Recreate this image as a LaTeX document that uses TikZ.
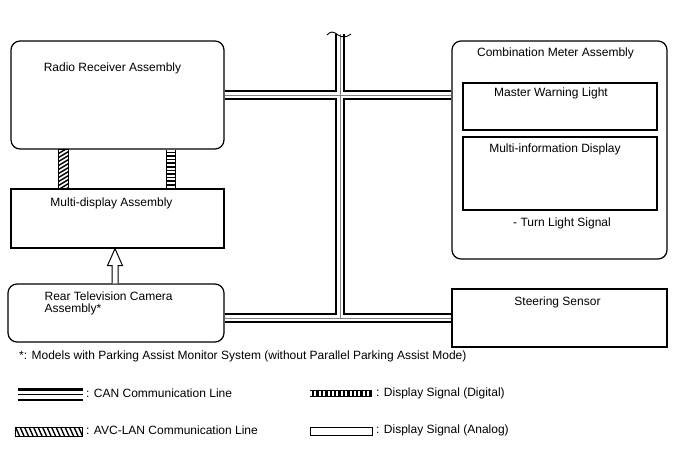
\documentclass[tikz,border=0pt]{standalone}
\usepackage{fontspec}
\setmainfont{Liberation Sans}
\usetikzlibrary{arrows.meta,positioning,calc}

\begin{document}
\begin{tikzpicture}[x=1pt,y=-1pt,font=\fontsize{12}{12.5}\selectfont,
  box/.style={draw,line width=1.2pt,inner sep=0pt},
  rbox/.style={box,rounded corners=9pt},
  lbl/.style={inner sep=0pt,anchor=north}]
\useasboundingbox (0,0) rectangle (688,463);
% units
\node[rbox,minimum width=213pt,minimum height=108pt] (radio) at (117.5,95) {};
\node[box,minimum width=213pt,minimum height=59pt] (multi) at (117.5,218.5) {};
\node[rbox,minimum width=216pt,minimum height=58pt] (rear) at (116,313) {};
\node[rbox,minimum width=215pt,minimum height=218pt] (meter) at (559.5,150) {};
\node[box,minimum width=194pt,minimum height=47pt] (mwl) at (560,106.5) {};
\node[box,minimum width=194pt,minimum height=73pt] (mid) at (560,173.5) {};
\node[box,minimum width=215pt,minimum height=58pt] (steer) at (559.5,318) {};
% texts
\node[lbl,below=22pt of radio.north,xshift=-5pt] (radiot) {Radio Receiver Assembly};
\node[lbl,below=9pt of multi.north,xshift=-6pt] (multit) {Multi-display Assembly};
\node[lbl,anchor=north west,align=left] (reart) at ($(rear.north west)+(37,8)$) {Rear Television Camera\\Assembly*};
\node[lbl,below=7pt of meter.north,xshift=-4pt] (metert) {Combination Meter Assembly};
\node[lbl,below=5pt of mwl.north,xshift=-9pt] (mwlt) {Master Warning Light};
\node[lbl,below=7pt of mid.north,xshift=-5pt] (midt) {Multi-information Display};
\node[lbl,below=7pt of mid.south,xshift=2pt] (turnt) {- Turn Light Signal};
\node[lbl,below=8pt of steer.north,xshift=-2pt] (steert) {Steering Sensor};
% CAN bus
\coordinate (brk) at (340,34);
\foreach \w/\c in {10/black,5.5/white,0.8/gray}{
  \draw[line width=\w pt,\c] (radio.east) -- (radio.east -| meter.west);
  \draw[line width=\w pt,\c] (rear.east |- steer.west) -- (steer.west);
  \draw[line width=\w pt,\c] (brk) -- (brk |- steer.west);
}
\draw[line width=0.9pt] (327,35) sin (332,32) cos (338,35) sin (344,37) cos (351,34);
% display signal (digital)
\coordinate (dig1) at ($(radio.south west)+(161,0)$);
\coordinate (dig2) at ($(multi.north west)+(161,0)$);
\draw[line width=10pt] (dig1) -- (dig2);
\draw[line width=8pt,white,dash pattern=on 2pt off 1.6pt] (dig1) -- (dig2);
% AVC-LAN
\coordinate (avc1) at ($(radio.south west)+(53,0)$);
\coordinate (avc2) at ($(multi.north west)+(53,0)$);
\begin{scope}
  \clip ($(avc1)+(-5,0)$) rectangle ($(avc2)+(5,0)$);
  \foreach \t in {-8,-4,...,48} \draw[line width=1.4pt] ($(avc1)+(-5,\t)$) -- ++(10,-6);
\end{scope}
\draw[line width=0.8pt] ($(avc1)+(-5,0)$) rectangle ($(avc2)+(5,0)$);
% display signal (analog)
\coordinate (tip) at ($(multi.south)+(-2.5,0)$);
\coordinate (ab) at ($(rear.north)+(-1,0)$);
\draw[line width=1pt,fill=white] ($(ab)+(-3,0)$) -- ($(tip)+(-3,17)$) -- ($(tip)+(-7.5,17)$)
  -- (tip) -- ($(tip)+(7.5,17)$) -- ($(tip)+(3,17)$) -- ($(ab)+(3,0)$);
% footnote
\node[lbl,anchor=west] (note) at (19,356) {*: Models with Parking Assist Monitor System (without Parallel Parking Assist Mode)};
% legend
\foreach \w/\c in {13/black,8/white,1.8/black}
  \draw[line width=\w pt,\c] (18,394.5) -- (83,394.5);
\node[lbl,anchor=west] (cant) at (86,393) {: CAN Communication Line};
\begin{scope}
  \clip (15,427) rectangle (82,436);
  \foreach \t in {11,15.5,...,84} \draw[line width=1.4pt] (\t,427) -- ++(4,9);
\end{scope}
\draw[line width=0.8pt] (15,427) rectangle (82,436);
\node[lbl,anchor=west] (avct) at (86,430) {: AVC-LAN Communication Line};
\draw[line width=7.5pt] (310,393.5) -- (372,393.5);
\draw[line width=5.5pt,white,dash pattern=on 2pt off 2.4pt] (310,393.5) -- (372,393.5);
\node[lbl,anchor=west] (digt) at (376,393) {: Display Signal (Digital)};
\draw[line width=1pt] (310,427) rectangle (372,435);
\node[lbl,anchor=west] (angt) at (376,430) {: Display Signal (Analog)};
\end{tikzpicture}
\end{document}
